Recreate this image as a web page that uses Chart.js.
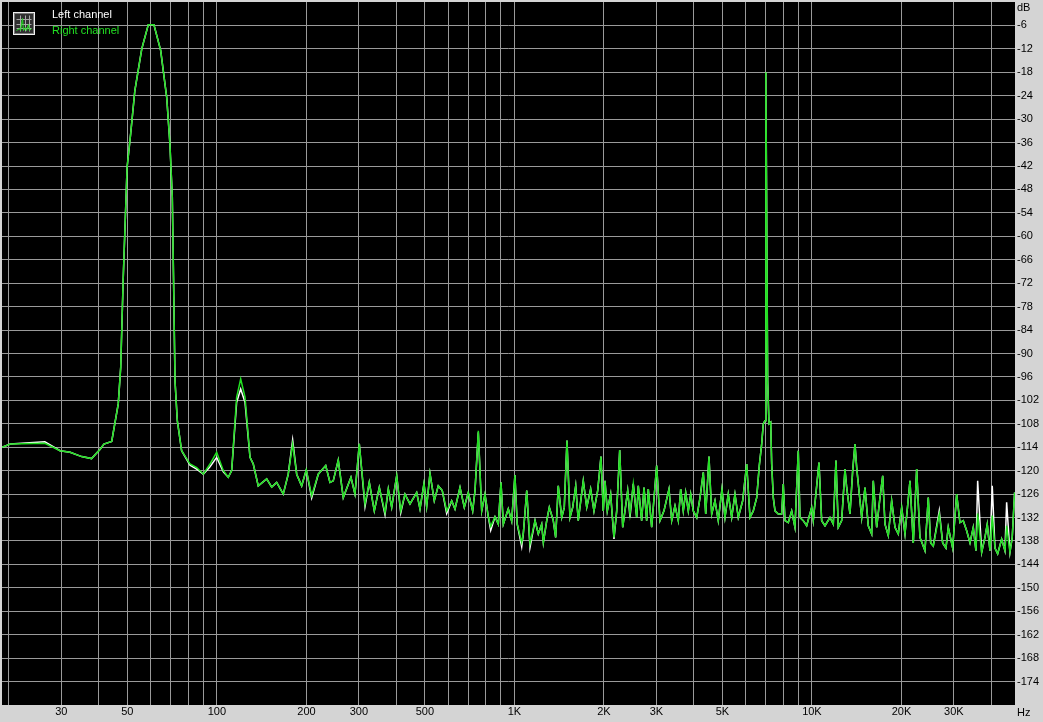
<!DOCTYPE html>
<html><head><meta charset="utf-8">
<script src="https://cdn.jsdelivr.net/npm/chart.js@4.4.1/dist/chart.umd.min.js"></script>
<style>html,body{margin:0;padding:0;background:#d4d4d4;}#wrap{width:1043px;height:722px;position:relative}</style>
</head><body><div id="wrap"><canvas id="c" width="1043" height="722"></canvas></div>
<script>
const seriesNames = ['Left channel', 'Right channel'];
const freqHz = [
18.95, 20.2, 26.4, 29.7, 32.1, 35.1, 37.9, 40.5, 41.7, 44.3,
46.6, 47.5, 48.4, 49.9, 51.3, 53.0, 55.9, 58.8, 61.4, 64.7,
67.8, 69.5, 70.8, 71.5, 72.3, 73.6, 76.1, 81.2, 85.5, 90.0,
94.8, 99.8, 105.1, 109.2, 112.1, 116.5, 120.2, 124.3, 129.2, 132.5,
137.7, 147.0, 152.8, 158.8, 167.1, 173.7, 179.7, 185.4, 192.7, 199.7,
208.2, 219.1, 232.1, 239.9, 246.1, 255.8, 265.9, 282.2, 291.1, 301.0,
314.6, 325.2, 338.1, 351.4, 367.3, 376.8, 386.8, 402.1, 414.8, 428.7,
445.6, 469.3, 481.5, 496.6, 507.0, 520.2, 537.8, 554.7, 572.1, 592.0,
615.4, 631.3, 656.2, 678.4, 699.7, 724.0, 737.1, 756.2, 776.3, 796.3,
816.9, 832.3, 860.5, 882.7, 901.3, 917.6, 953.6, 979.0, 1004, 1022,
1058, 1071, 1100, 1128, 1173, 1203, 1235, 1251, 1284, 1310,
1351, 1376, 1404, 1442, 1471, 1502, 1537, 1570, 1607, 1639,
1704, 1750, 1804, 1851, 1905, 1954, 1989, 2016, 2052, 2106,
2161, 2207, 2259, 2312, 2353, 2403, 2446, 2509, 2576, 2608,
2677, 2726, 2783, 2818, 2893, 3007, 3085, 3182, 3308, 3378,
3465, 3555, 3621, 3695, 3764, 3841, 3913, 3993, 4100, 4206,
4314, 4395, 4508, 4603, 4722, 4844, 4985, 5102, 5234, 5374,
5512, 5655, 5851, 6035, 6191, 6352, 6522, 6654, 6778, 6863,
6955, 7000, 7100, 7173, 7268, 7324, 7416, 7514, 7708, 7914,
8012, 8118, 8328, 8549, 8770, 8997, 9117, 9352, 9601, 9980,
10105, 10561, 10784, 11063, 11500, 11797, 12045, 12263, 12589, 12915,
13086, 13424, 13709, 13954, 14139, 14316, 14698, 15078, 15468, 15879,
16078, 16507, 16934, 17292, 17602, 18058, 18536, 19020, 19512, 20031,
20549, 21359, 21912, 22494, 23076, 23988, 24609, 25072, 25580, 26796,
27509, 28220, 28725, 29720, 30652, 31445, 32259, 33126, 33982, 34862,
35592, 36064, 37203, 38164, 38846, 39668, 40378, 41232, 42104, 43423,
44547, 45134, 46301, 47130, 48000
];
const rightDb = [
-114.0, -113.2, -113.0, -114.9, -115.3, -116.4, -116.9, -114.5, -113.2, -112.5,
-102.9, -93.5, -71.3, -42.3, -33.7, -22.6, -12.0, -5.8, -5.8, -12.4,
-24.4, -36.3, -50.0, -71.3, -97.0, -107.2, -114.9, -118.3, -119.2, -120.9,
-118.3, -115.3, -120.0, -121.7, -120.0, -101.2, -96.5, -101.2, -116.6, -118.3,
-123.9, -122.1, -124.2, -123.0, -126.0, -120.9, -113.2, -120.9, -123.9, -119.8,
-126.4, -120.9, -118.7, -123.0, -122.6, -117.3, -126.9, -121.7, -126.0, -113.1,
-128.5, -123.0, -130.3, -124.3, -130.7, -124.7, -129.4, -121.3, -130.3, -126.0,
-128.5, -125.6, -129.8, -123.3, -129.2, -120.7, -127.7, -123.9, -125.1, -130.3,
-127.7, -129.8, -124.3, -129.4, -125.6, -130.3, -125.1, -109.8, -130.3, -126.0,
-131.8, -134.3, -131.8, -133.7, -123.0, -133.7, -129.8, -132.9, -121.1, -133.7,
-138.4, -136.2, -125.1, -138.7, -132.8, -136.2, -133.7, -138.4, -132.8, -129.4,
-132.8, -137.1, -123.9, -132.0, -129.4, -112.3, -132.0, -129.4, -123.9, -132.8,
-122.6, -129.4, -124.7, -130.3, -125.1, -116.4, -130.3, -122.6, -130.3, -126.0,
-137.1, -130.3, -114.7, -134.5, -130.3, -125.1, -131.1, -123.4, -132.0, -123.9,
-132.8, -124.3, -132.8, -124.7, -134.5, -118.7, -132.8, -130.3, -124.7, -132.8,
-129.0, -132.8, -124.7, -130.3, -125.6, -130.3, -126.0, -130.3, -132.0, -126.9,
-120.4, -131.1, -116.4, -131.1, -127.7, -132.8, -124.7, -132.0, -126.0, -132.0,
-126.0, -132.0, -127.7, -118.3, -132.0, -130.3, -126.9, -118.7, -113.2, -108.0,
-107.2, -18.0, -97.0, -108.0, -107.6, -118.3, -126.9, -130.3, -131.1, -131.1,
-123.4, -132.8, -133.3, -130.3, -134.5, -114.9, -132.0, -132.8, -134.1, -129.4,
-132.8, -117.9, -132.8, -134.1, -132.0, -133.7, -117.4, -134.5, -132.8, -119.6,
-124.3, -131.1, -120.0, -113.2, -119.2, -123.4, -132.0, -124.3, -134.1, -136.2,
-122.6, -134.5, -126.9, -121.3, -133.7, -136.6, -127.7, -134.5, -136.2, -129.4,
-136.2, -122.6, -138.5, -119.6, -137.1, -140.5, -126.9, -138.5, -139.3, -131.1,
-138.5, -139.8, -134.5, -139.8, -126.0, -133.3, -132.8, -135.4, -138.5, -134.5,
-140.5, -131.0, -140.9, -137.1, -133.7, -140.5, -131.5, -139.8, -141.3, -137.5,
-140.5, -134.1, -140.9, -137.1, -125.6
];
const leftDb = [
-114.0, -113.2, -112.6, -114.9, -115.3, -116.4, -116.9, -114.5, -113.2, -112.5,
-102.9, -93.5, -71.3, -42.3, -33.7, -22.6, -12.0, -5.8, -5.8, -12.4,
-24.4, -36.3, -50.0, -71.3, -97.0, -107.2, -114.9, -118.6, -119.6, -120.9,
-119.0, -116.6, -120.3, -121.7, -120.0, -102.5, -99.1, -102.5, -116.6, -118.3,
-123.9, -122.1, -124.2, -123.0, -126.0, -120.9, -112.1, -120.9, -123.9, -119.8,
-127.0, -120.9, -118.7, -123.0, -122.6, -117.3, -126.9, -121.7, -126.0, -113.1,
-129.2, -123.0, -130.3, -124.3, -131.3, -124.7, -129.4, -121.3, -130.8, -126.0,
-128.5, -125.6, -129.8, -123.3, -129.2, -120.7, -127.7, -123.9, -125.1, -131.0,
-127.7, -129.8, -124.3, -129.4, -125.6, -130.3, -125.1, -110.2, -130.3, -126.0,
-131.8, -135.3, -131.8, -133.7, -123.0, -133.7, -129.8, -132.9, -121.1, -133.7,
-139.5, -136.2, -125.1, -139.7, -132.8, -136.2, -133.7, -138.4, -132.8, -129.4,
-132.8, -137.1, -123.9, -132.0, -129.4, -112.3, -132.0, -129.4, -123.9, -132.8,
-122.6, -129.4, -124.7, -130.3, -125.1, -116.4, -130.3, -122.6, -130.3, -126.0,
-137.5, -130.3, -114.7, -134.5, -130.3, -125.1, -132.0, -123.4, -132.0, -123.9,
-132.8, -124.3, -132.8, -124.7, -134.5, -118.7, -132.8, -130.3, -124.7, -132.8,
-129.0, -132.8, -124.7, -130.3, -125.6, -130.3, -126.0, -130.3, -132.0, -126.9,
-120.4, -131.1, -116.4, -131.1, -127.7, -132.8, -124.7, -132.0, -126.0, -132.0,
-126.0, -132.0, -127.7, -118.3, -132.0, -130.3, -126.9, -118.7, -113.2, -108.0,
-107.2, -18.0, -97.0, -108.0, -107.6, -118.3, -126.9, -130.3, -131.1, -131.1,
-123.4, -132.8, -133.3, -130.3, -134.5, -114.9, -132.0, -132.8, -134.1, -129.4,
-132.8, -117.9, -132.8, -134.1, -132.0, -133.7, -117.4, -134.5, -132.8, -119.6,
-124.3, -131.1, -120.0, -113.2, -119.2, -123.4, -132.0, -124.3, -134.1, -136.2,
-122.6, -134.5, -126.9, -121.3, -133.7, -136.6, -127.7, -134.5, -136.2, -129.4,
-136.2, -122.6, -138.5, -119.6, -137.1, -140.5, -126.9, -138.5, -139.3, -130.2,
-138.5, -139.8, -134.5, -139.8, -126.0, -133.3, -132.8, -135.4, -138.5, -134.5,
-140.5, -122.6, -140.9, -137.1, -133.7, -140.5, -123.9, -139.8, -141.3, -137.5,
-140.5, -128.1, -140.9, -137.1, -125.6
];
const xGridHz = [20,30,40,50,60,70,80,90,100,200,300,400,500,600,700,800,900,
  1000,2000,3000,4000,5000,6000,7000,8000,9000,10000,20000,30000,40000];
const xTickLabels = {30:'30',50:'50',100:'100',200:'200',300:'300',500:'500',
  1000:'1K',2000:'2K',3000:'3K',5000:'5K',10000:'10K',20000:'20K',30000:'30K'};
const yMin = -180, yMax = 0, yStep = 6;
const xMin = 18.95, xMax = 48150;
const xUnit = 'Hz', yUnit = 'dB';

const FONT = "'Liberation Sans', Arial, sans-serif";
const GREEN = '#22e022', WHITE = '#ffffff', GRID = '#9a9a9a', PANEL = '#d4d4d4';

const toPts = (ys) => freqHz.map((f, i) => ({x: f, y: ys[i]}));

const framePlugin = {
  id: 'frame',
  beforeDraw(chart) {
    const {ctx, chartArea: a} = chart;
    ctx.save();
    ctx.fillStyle = PANEL; ctx.fillRect(0, 0, chart.width, chart.height);
    ctx.fillStyle = '#000'; ctx.fillRect(a.left, a.top, a.right - a.left, a.bottom - a.top);
    ctx.restore();
  },
  afterDraw(chart) {
    const {ctx, chartArea: a} = chart;
    ctx.save();
    ctx.font = '11px ' + FONT;
    ctx.textBaseline = 'middle';
    ctx.textAlign = 'left';
    ctx.fillStyle = '#000';
    ctx.fillText(yUnit, a.right + 2, 8);
    ctx.fillText(xUnit, a.right + 2, 713);
    // legend icon
    const ix = 13.5, iy = 12.5, iw = 21, ih = 22;
    ctx.fillStyle = '#303030';
    ctx.fillRect(ix, iy, iw, ih);
    ctx.strokeStyle = '#a8a8a8'; ctx.lineWidth = 1;
    ctx.beginPath();
    for (let k = 1; k < 4; k++) {
      ctx.moveTo(Math.round(ix + 2 + k * 4.5) + 0.5, iy + 3); ctx.lineTo(Math.round(ix + 2 + k * 4.5) + 0.5, iy + ih - 3);
      ctx.moveTo(ix + 3, Math.round(iy + 2 + k * 4.5) + 0.5); ctx.lineTo(ix + iw - 3, Math.round(iy + 2 + k * 4.5) + 0.5);
    }
    ctx.stroke();
    ctx.strokeStyle = '#f0f0f0';
    ctx.strokeRect(ix, iy, iw, ih);
    ctx.strokeStyle = '#7a7a7a';
    ctx.strokeRect(ix + 1, iy + 1, iw - 2, ih - 2);
    ctx.strokeStyle = GREEN; ctx.lineWidth = 1;
    ctx.beginPath();
    ctx.moveTo(ix + 3, iy + 18); ctx.lineTo(ix + 6, iy + 16); ctx.lineTo(ix + 7, iy + 18);
    ctx.lineTo(ix + 9, iy + 6); ctx.lineTo(ix + 10, iy + 18); ctx.lineTo(ix + 12, iy + 15);
    ctx.lineTo(ix + 13, iy + 18); ctx.lineTo(ix + 15, iy + 12); ctx.lineTo(ix + 16, iy + 18);
    ctx.lineTo(ix + 18, iy + 16);
    ctx.stroke();
    // legend text
    ctx.fillStyle = WHITE;
    ctx.fillText(seriesNames[0], 52, 15);
    ctx.fillStyle = GREEN;
    ctx.fillText(seriesNames[1], 52, 31);
    ctx.restore();
  }
};

new Chart(document.getElementById('c'), {
  type: 'line',
  data: {
    datasets: [
      {label: seriesNames[1], data: toPts(rightDb), borderColor: GREEN, borderWidth: 1.5, pointRadius: 0, tension: 0, order: 0},
      {label: seriesNames[0], data: toPts(leftDb), borderColor: WHITE, borderWidth: 1.5, pointRadius: 0, tension: 0, order: 1}
    ]
  },
  options: {
    responsive: false,
    animation: false,
    devicePixelRatio: 1,
    layout: {padding: {left: 2, top: 2, right: 0, bottom: 0}},
    plugins: {legend: {display: false}, tooltip: {enabled: false}},
    scales: {
      x: {
        type: 'logarithmic', min: xMin, max: xMax,
        afterBuildTicks: (s) => { s.ticks = xGridHz.map(v => ({value: v})); },
        afterFit: (s) => { s.height = 17; s.paddingLeft = 0; s.paddingRight = 0; s.paddingTop = 0; s.paddingBottom = 0; },
        grid: {color: GRID, lineWidth: 1, drawTicks: false},
        border: {display: false},
        ticks: {
          autoSkip: false, maxRotation: 0, minRotation: 0, padding: 0,
          color: '#000', font: {family: FONT, size: 11},
          callback: (v) => (xTickLabels[v] !== undefined ? xTickLabels[v] : '')
        }
      },
      y: {
        type: 'linear', position: 'right', min: yMin, max: yMax,
        afterFit: (s) => { s.width = 28; s.paddingTop = 0; s.paddingBottom = 0; s.paddingLeft = 0; s.paddingRight = 0; },
        grid: {color: GRID, lineWidth: 1, drawTicks: false},
        border: {display: false},
        ticks: {
          stepSize: yStep, autoSkip: false, padding: 2, crossAlign: 'near',
          color: '#000', font: {family: FONT, size: 11},
          callback: (v) => (v === yMax || v === yMin ? null : String(v))
        }
      }
    }
  },
  plugins: [framePlugin]
});
</script>
</body></html>
